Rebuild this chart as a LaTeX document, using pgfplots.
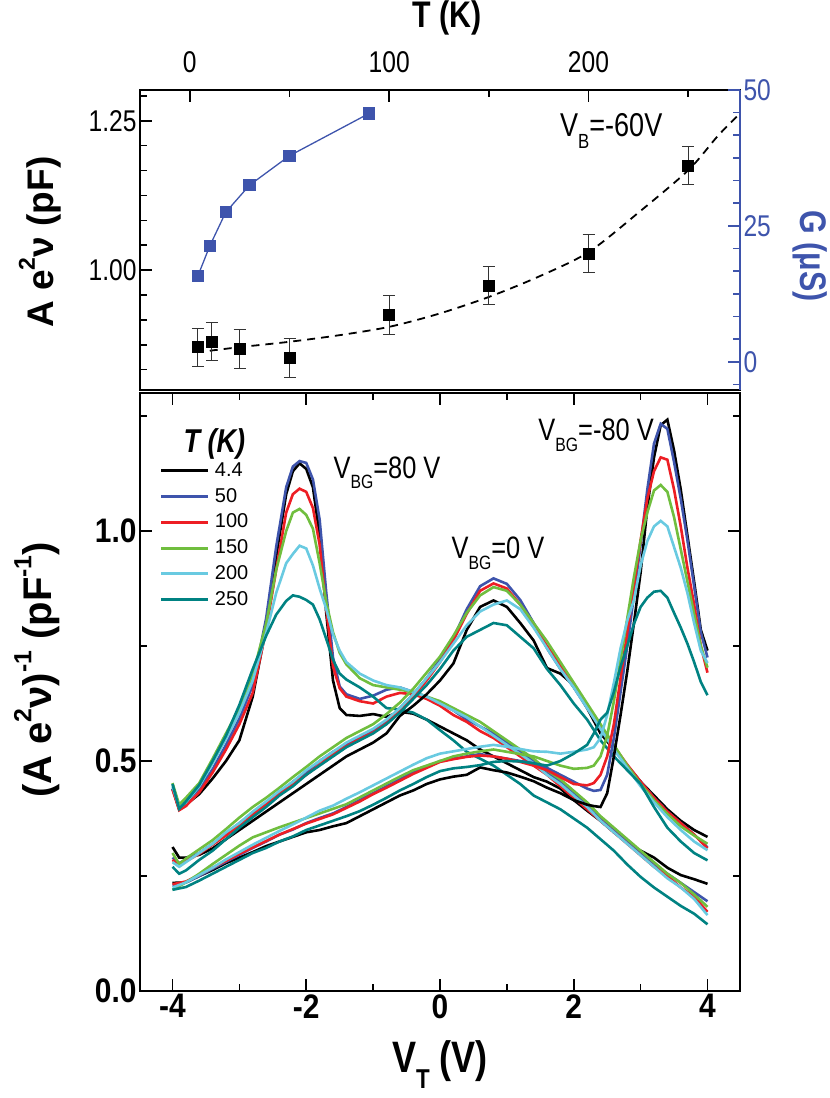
\documentclass[border=0pt]{standalone}
\usepackage{pgfplots}
\pgfplotsset{compat=1.18}
\usepackage{pgfplotstable}
\usepackage{fontspec}
\setmainfont{Liberation Sans}
\newfontfamily\cond{Liberation Sans}[FakeStretch=0.82]
\newfontfamily\condB{Liberation Sans}[FakeStretch=0.88]

\definecolor{cBlue}{RGB}{62,84,172}
\definecolor{cRed}{RGB}{237,30,36}
\definecolor{cGreen}{RGB}{112,190,62}
\definecolor{cCyan}{RGB}{105,202,225}
\definecolor{cTeal}{RGB}{0,130,130}
\definecolor{axBlue}{RGB}{62,84,172}

\newcommand\fs[1]{\fontsize{#1}{#1}\selectfont}
\newcommand\sub[1]{\raisebox{-0.35em}{\scalebox{0.62}{#1}}}
\newcommand\sps[1]{\raisebox{0.5em}{\scalebox{0.62}{#1}}}

% top panel data
\pgfplotstableread{
T   A     err
4   0.871 0.032
11  0.880 0.032
25  0.868 0.032
50  0.853 0.032
100 0.925 0.032
150 0.974 0.032
200 1.028 0.032
250 1.175 0.032
}\tabA
\pgfplotstableread{
T   A
10  0.865
25  0.871
50  0.880
75  0.891
100 0.905
125 0.927
150 0.955
175 0.989
200 1.030
225 1.096
250 1.167
265 1.225
276 1.262
}\tabFit
\pgfplotstableread{
T   G
4   15.75
10  21.3
18  27.5
30  32.5
50  37.9
90  45.7
}\tabG

% bottom panel: V_BG = 80 V
\pgfplotstableread{
V     bk    bl    rd    gr    cy    tl
-4.0  0.440 0.440 0.438 0.452 0.445 0.450
-3.9  0.395 0.400 0.393 0.405 0.398 0.396
-3.8  0.405 0.410 0.402 0.420 0.410 0.412
-3.6  0.428 0.440 0.432 0.452 0.445 0.448
-3.4  0.462 0.482 0.475 0.505 0.495 0.500
-3.2  0.500 0.535 0.525 0.560 0.548 0.555
-3.0  0.545 0.592 0.580 0.615 0.605 0.622
-2.8  0.640 0.665 0.648 0.688 0.675 0.700
-2.6  0.790 0.810 0.785 0.798 0.778 0.772
-2.45 0.945 0.965 0.915 0.915 0.865 0.818
-2.3  1.080 1.095 1.040 1.000 0.930 0.848
-2.2  1.130 1.140 1.080 1.040 0.950 0.860
-2.1  1.147 1.152 1.092 1.048 0.968 0.857
-2.0  1.135 1.148 1.085 1.035 0.962 0.850
-1.9  1.095 1.112 1.050 1.005 0.925 0.840
-1.8  0.990 1.025 0.970 0.930 0.875 0.808
-1.7  0.820 0.865 0.830 0.845 0.830 0.765
-1.6  0.675 0.725 0.705 0.780 0.775 0.720
-1.5  0.615 0.662 0.658 0.735 0.740 0.690
-1.4  0.600 0.645 0.640 0.710 0.715 0.677
-1.2  0.598 0.635 0.630 0.680 0.690 0.660
-1.0  0.602 0.642 0.625 0.665 0.675 0.640
-0.8  0.596 0.655 0.640 0.660 0.665 0.615
-0.6  0.607 0.660 0.648 0.655 0.660 0.612
-0.4  0.603 0.650 0.645 0.650 0.650 0.605
-0.2  0.590 0.640 0.635 0.640 0.640 0.590
0.0   0.575 0.625 0.620 0.630 0.625 0.567
0.2   0.560 0.610 0.600 0.615 0.610 0.545
0.4   0.545 0.590 0.585 0.600 0.595 0.520
0.6   0.525 0.575 0.565 0.585 0.575 0.505
0.8   0.510 0.560 0.550 0.565 0.555 0.490
1.0   0.495 0.540 0.530 0.545 0.535 0.470
1.2   0.480 0.520 0.510 0.525 0.515 0.450
1.4   0.465 0.500 0.490 0.505 0.495 0.425
1.6   0.455 0.475 0.470 0.480 0.470 0.410
1.8   0.440 0.455 0.445 0.460 0.450 0.395
2.0   0.415 0.430 0.420 0.435 0.425 0.375
2.2   0.392 0.405 0.395 0.410 0.400 0.355
2.4   0.370 0.375 0.370 0.380 0.370 0.330
2.6   0.345 0.350 0.345 0.355 0.345 0.305
2.8   0.322 0.325 0.320 0.330 0.320 0.275
3.0   0.305 0.300 0.295 0.305 0.295 0.248
3.2   0.290 0.275 0.270 0.280 0.270 0.225
3.4   0.268 0.255 0.250 0.255 0.245 0.205
3.6   0.252 0.235 0.225 0.235 0.225 0.185
3.8   0.243 0.215 0.205 0.210 0.200 0.168
4.0   0.233 0.195 0.172 0.183 0.165 0.145
}\famX

% V_BG = 0 V
\pgfplotstableread{
V     bk    bl    rd    gr    cy    tl
-4.0  0.313 0.290 0.285 0.300 0.280 0.270
-3.9  0.290 0.278 0.274 0.276 0.270 0.255
-3.8  0.290 0.285 0.282 0.288 0.280 0.262
-3.6  0.296 0.300 0.298 0.308 0.300 0.285
-3.4  0.310 0.320 0.318 0.328 0.320 0.305
-3.2  0.330 0.342 0.338 0.352 0.345 0.330
-3.0  0.350 0.365 0.360 0.377 0.365 0.355
-2.8  0.370 0.388 0.383 0.400 0.390 0.378
-2.6  0.390 0.410 0.405 0.420 0.412 0.400
-2.4  0.410 0.430 0.428 0.442 0.435 0.425
-2.2  0.430 0.455 0.450 0.465 0.455 0.445
-2.0  0.450 0.475 0.470 0.487 0.480 0.470
-1.8  0.470 0.500 0.492 0.510 0.500 0.490
-1.6  0.490 0.520 0.515 0.530 0.520 0.510
-1.4  0.510 0.535 0.532 0.550 0.540 0.530
-1.2  0.525 0.552 0.548 0.565 0.555 0.545
-1.0  0.540 0.566 0.562 0.580 0.570 0.560
-0.8  0.560 0.587 0.582 0.602 0.590 0.580
-0.6  0.598 0.615 0.610 0.627 0.615 0.605
-0.4  0.620 0.645 0.640 0.657 0.645 0.635
-0.2  0.645 0.680 0.675 0.692 0.680 0.665
0.0   0.675 0.720 0.715 0.727 0.715 0.700
0.2   0.712 0.767 0.762 0.772 0.755 0.740
0.4   0.785 0.830 0.820 0.822 0.795 0.770
0.6   0.835 0.880 0.870 0.860 0.825 0.785
0.8   0.849 0.897 0.886 0.878 0.840 0.800
1.0   0.835 0.885 0.875 0.870 0.849 0.795
1.2   0.800 0.850 0.840 0.840 0.830 0.770
1.4   0.762 0.800 0.795 0.800 0.790 0.745
1.6   0.702 0.745 0.750 0.760 0.745 0.700
1.8   0.690 0.700 0.708 0.715 0.700 0.665
2.0   0.665 0.660 0.665 0.670 0.660 0.625
2.2   0.615 0.615 0.620 0.625 0.615 0.590
2.4   0.560 0.575 0.575 0.580 0.570 0.545
2.6   0.525 0.530 0.532 0.535 0.525 0.510
2.8   0.490 0.490 0.492 0.490 0.485 0.480
3.0   0.455 0.455 0.455 0.450 0.445 0.450
3.2   0.425 0.420 0.420 0.415 0.410 0.400
3.4   0.395 0.390 0.390 0.385 0.378 0.355
3.6   0.370 0.365 0.365 0.358 0.350 0.325
3.8   0.350 0.340 0.340 0.338 0.325 0.300
4.0   0.335 0.312 0.310 0.320 0.306 0.284
}\famY

% V_BG = -80 V
\pgfplotstableread{
V     bk    bl    rd    gr    cy    tl
-4.0  0.235 0.230 0.232 0.220 0.225 0.220
-3.8  0.236 0.236 0.238 0.236 0.236 0.226
-3.6  0.250 0.250 0.252 0.255 0.252 0.240
-3.4  0.263 0.266 0.268 0.276 0.268 0.255
-3.2  0.278 0.281 0.283 0.296 0.286 0.270
-3.0  0.290 0.296 0.298 0.316 0.302 0.285
-2.8  0.302 0.311 0.312 0.334 0.318 0.300
-2.6  0.315 0.325 0.326 0.345 0.333 0.311
-2.4  0.325 0.340 0.340 0.356 0.348 0.325
-2.2  0.335 0.351 0.352 0.366 0.362 0.336
-2.0  0.345 0.365 0.364 0.376 0.377 0.350
-1.8  0.350 0.376 0.374 0.386 0.392 0.360
-1.6  0.358 0.386 0.384 0.396 0.403 0.370
-1.4  0.365 0.400 0.398 0.406 0.418 0.380
-1.2  0.380 0.415 0.412 0.421 0.432 0.391
-1.0  0.395 0.430 0.428 0.436 0.447 0.405
-0.8  0.410 0.445 0.442 0.451 0.462 0.420
-0.6  0.425 0.460 0.457 0.466 0.477 0.436
-0.4  0.436 0.475 0.472 0.480 0.492 0.450
-0.2  0.450 0.486 0.485 0.490 0.506 0.465
0.0   0.460 0.500 0.498 0.500 0.516 0.478
0.2   0.466 0.505 0.504 0.510 0.521 0.484
0.4   0.470 0.510 0.509 0.516 0.526 0.487
0.6   0.486 0.515 0.512 0.521 0.531 0.491
0.8   0.480 0.510 0.510 0.525 0.535 0.498
1.0   0.475 0.505 0.505 0.520 0.531 0.500
1.2   0.466 0.500 0.498 0.515 0.526 0.499
1.4   0.456 0.495 0.490 0.510 0.521 0.495
1.6   0.442 0.485 0.480 0.500 0.520 0.490
1.8   0.430 0.470 0.465 0.490 0.516 0.500
2.0   0.415 0.455 0.450 0.483 0.520 0.516
2.2   0.405 0.440 0.447 0.485 0.525 0.535
2.3   0.402 0.435 0.452 0.490 0.530 0.560
2.4   0.400 0.437 0.470 0.510 0.550 0.590
2.5   0.430 0.470 0.510 0.555 0.600 0.605
2.6   0.510 0.550 0.580 0.630 0.670 0.650
2.7   0.600 0.650 0.680 0.720 0.745 0.705
2.8   0.695 0.750 0.780 0.810 0.805 0.750
2.9   0.800 0.860 0.880 0.900 0.850 0.798
3.0   0.910 0.970 0.980 0.980 0.925 0.835
3.1   1.050 1.090 1.070 1.040 0.978 0.855
3.2   1.160 1.190 1.130 1.088 1.010 0.868
3.3   1.230 1.233 1.160 1.100 1.022 0.870
3.4   1.242 1.222 1.155 1.085 1.010 0.855
3.5   1.175 1.150 1.090 1.030 0.965 0.822
3.6   1.090 1.070 1.010 0.960 0.920 0.790
3.7   0.990 0.980 0.920 0.890 0.865 0.755
3.8   0.890 0.880 0.840 0.820 0.800 0.715
3.9   0.785 0.780 0.750 0.750 0.740 0.672
4.0   0.740 0.725 0.692 0.703 0.713 0.643
}\famZ

\begin{document}
\begin{tikzpicture}
\path[use as bounding box] (0pt,0pt) rectangle (830pt,1098pt);

% ---------- top panel, left axis ----------
\begin{axis}[
  at={(140pt,708pt)}, anchor=south west, scale only axis,
  width=600pt, height=300pt, clip=false,
  xmin=-25, xmax=276, ymin=0.7993, ymax=1.3014,
  xtick={0,100,200}, xticklabels={0,100,200}, minor xtick={50,150,250},
  xtick pos=right, xticklabel pos=right,
  ytick={1.0,1.25}, yticklabels={1.00,1.25},
  minor ytick={0.8333,0.875,0.9167,0.9583,1.0417,1.0833,1.125,1.1667,1.2083,1.2917},
  ytick pos=left,
  tick align=inside, major tick length=12pt, minor tick length=7pt,
  axis line style={line width=2pt},
  every tick/.style={line width=1.6pt, black},
  tick label style={font=\cond\fs{30}},
  xticklabel style={yshift=14pt},
  xlabel={T (K)},
  xlabel style={font=\cond\bfseries\fs{37}, at={(axis description cs:0.512,1.207)}, anchor=base},
  ylabel={A e\sps{2}ν (pF)},
  ylabel style={font=\bfseries\fs{37}, at={(axis description cs:-0.1667,0.493)}, anchor=center, rotate=0},
]
\addplot[black, line width=1.8pt, dash pattern=on 8pt off 6pt, smooth] table[x=T, y=A] {\tabFit};
\addplot[only marks, mark=square*, mark size=5.5pt, black,
  error bars/.cd, y dir=both, y explicit,
  error bar style={line width=1pt, black!80},
  error mark options={rotate=90, mark size=6pt, line width=1pt, black!80}]
  table[x=T, y=A, y error=err] {\tabA};
\node[anchor=base west, font=\cond\fs{33}] at (axis cs:184,1.223) {V\sub{B}=-60V};
\end{axis}

% ---------- top panel, right axis ----------
\begin{axis}[
  at={(140pt,708pt)}, anchor=south west, scale only axis,
  width=600pt, height=300pt, clip=false,
  xmin=-25, xmax=276, ymin=-5.2, ymax=50,
  axis x line=none, axis y line*=right,
  y axis line style={draw=axBlue, line width=2pt, -},
  ytick={0,25,50}, yticklabels={0,25,50},
  minor ytick={-4.167,4.167,8.333,12.5,16.667,20.833,29.167,33.333,37.5,41.667,45.833},
  tick align=inside, major tick length=12pt, minor tick length=7pt,
  every tick/.style={line width=1.6pt, axBlue},
  yticklabel style={font=\cond\fs{30}, text=axBlue},
  ylabel={G (μS)},
  ylabel style={font=\cond\bfseries\fs{37}, text=axBlue, at={(axis description cs:1.117,0.447)}, anchor=center, rotate=180},
]
\addplot[axBlue, line width=1.3pt, mark=square*, mark size=5.5pt, mark options={fill=axBlue, draw=axBlue}] table[x=T, y=G] {\tabG};
\end{axis}

% ---------- bottom panel ----------
\begin{axis}[
  at={(140pt,107pt)}, anchor=south west, scale only axis,
  width=600pt, height=598pt, clip=false,
  xmin=-4.486, xmax=4.486, ymin=0, ymax=1.3,
  xtick={-4,-2,0,2,4}, xticklabels={-4,-2,0,2,4}, minor xtick={-3,-1,1,3},
  ytick={0,0.5,1.0}, yticklabels={0.0,0.5,1.0}, minor ytick={0.25,0.75,1.25},
  tick align=inside, major tick length=12pt, minor tick length=7pt,
  axis line style={line width=2pt},
  every tick/.style={line width=1.6pt, black},
  tick label style={font=\condB\bfseries\fs{34}},
  xlabel={V\sub{T} (V)},
  xlabel style={font=\cond\bfseries\fs{44}, at={(axis description cs:0.5,-0.137)}, anchor=base},
  ylabel={(A e\sps{2}ν)\sps{-1} (pF\sps{-1})},
  ylabel style={font=\bfseries\fs{40}, at={(axis description cs:-0.172,0.537)}, anchor=center},
  legend style={draw=none, fill=none, at={(axis cs:-4.19,1.152)}, anchor=north west,
    font=\fs{20}, row sep=6.8pt, inner sep=0pt, column sep=5pt,
    nodes={inner sep=0pt, text height=15pt, text depth=4pt}},
  legend cell align=left,
  legend image code/.code={\draw[#1, line width=3pt] (0pt,0pt) -- (47pt,0pt);},
  every axis plot/.append style={line width=2.6pt},
]
\addplot[black] table[x=V, y=bk] {\famX}; \addlegendentry{4.4}
\addplot[cBlue] table[x=V, y=bl] {\famX}; \addlegendentry{50}
\addplot[cRed] table[x=V, y=rd] {\famX}; \addlegendentry{100}
\addplot[cGreen] table[x=V, y=gr] {\famX}; \addlegendentry{150}
\addplot[cCyan] table[x=V, y=cy] {\famX}; \addlegendentry{200}
\addplot[cTeal] table[x=V, y=tl] {\famX}; \addlegendentry{250}

\addplot[black, forget plot] table[x=V, y=bk] {\famY};
\addplot[cBlue, forget plot] table[x=V, y=bl] {\famY};
\addplot[cRed, forget plot] table[x=V, y=rd] {\famY};
\addplot[cGreen, forget plot] table[x=V, y=gr] {\famY};
\addplot[cCyan, forget plot] table[x=V, y=cy] {\famY};
\addplot[cTeal, forget plot] table[x=V, y=tl] {\famY};

\addplot[black, forget plot] table[x=V, y=bk] {\famZ};
\addplot[cBlue, forget plot] table[x=V, y=bl] {\famZ};
\addplot[cRed, forget plot] table[x=V, y=rd] {\famZ};
\addplot[cGreen, forget plot] table[x=V, y=gr] {\famZ};
\addplot[cCyan, forget plot] table[x=V, y=cy] {\famZ};
\addplot[cTeal, forget plot] table[x=V, y=tl] {\famZ};

\node[anchor=base west, font=\cond\bfseries\itshape\fs{33}] at (axis cs:-3.886,1.171) {T (K)};
\node[anchor=base west, font=\cond\fs{31}] at (axis cs:-1.644,1.115) {V\sub{BG}=80 V};
\node[anchor=base west, font=\cond\fs{31}] at (axis cs:0.12,0.94) {V\sub{BG}=0 V};
\node[anchor=base west, font=\cond\fs{31}] at (axis cs:1.42,1.197) {V\sub{BG}=-80 V};
\end{axis}
\end{tikzpicture}
\end{document}
